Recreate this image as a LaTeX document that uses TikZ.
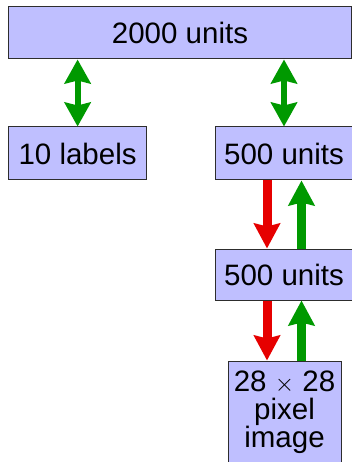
\documentclass[tikz,border=0pt]{standalone}
\usepackage{fontspec}
\setmainfont{Liberation Sans}
\usetikzlibrary{arrows.meta}
\definecolor{boxfill}{RGB}{191,191,255}
\definecolor{boxline}{RGB}{45,45,45}
\definecolor{upgreen}{RGB}{0,153,0}
\definecolor{downred}{RGB}{230,0,0}
\tikzset{
  unitbox/.style={draw=boxline, line width=1pt, fill=boxfill, inner sep=0pt,
    font=\fontsize{29.5}{28}\selectfont, align=center},
  dbl/.style={upgreen, line width=6pt, {Stealth[length=24pt,width=26pt,inset=3pt]}-{Stealth[length=24pt,width=26pt,inset=3pt]}},
  uparr/.style={upgreen, line width=9pt, -{Stealth[length=25pt,width=26pt,inset=3pt]}},
  downarr/.style={downred, line width=9pt, -{Stealth[length=25pt,width=26pt,inset=3pt]}},
}
\begin{document}
\begin{tikzpicture}[x=1pt,y=-1pt]
\useasboundingbox (0,0) rectangle (352,462);
\node[unitbox, minimum width=343.5pt, minimum height=52pt] (top) at (180,33) {2000 units};
\node[unitbox, minimum width=138.7pt, minimum height=53pt] (lab) at (77.6,153.5) {10 labels};
\node[unitbox, minimum width=138pt, minimum height=53pt] (h1) at (284,153.5) {500 units};
\node[unitbox, minimum width=138pt, minimum height=51pt] (h2) at (284,274.5) {500 units};
\node[unitbox, minimum width=113pt, minimum height=103pt] (img) at (284.5,412.5) {28 $\times$ 28\\pixel\\image};
\draw[dbl] (top.south -| lab.center) -- (lab.north);
\draw[dbl] (top.south -| h1.center) -- (h1.north);
\draw[downarr] ([xshift=-17pt]h1.south) -- ([xshift=-17pt]h2.north);
\draw[uparr] ([xshift=17.5pt]h2.north) -- ([xshift=17.5pt]h1.south);
\draw[downarr] ([xshift=-17pt]h2.south) -- ([xshift=-17.5pt]img.north);
\draw[uparr] ([xshift=17pt]img.north) -- ([xshift=17.5pt]h2.south);
\end{tikzpicture}
\end{document}
